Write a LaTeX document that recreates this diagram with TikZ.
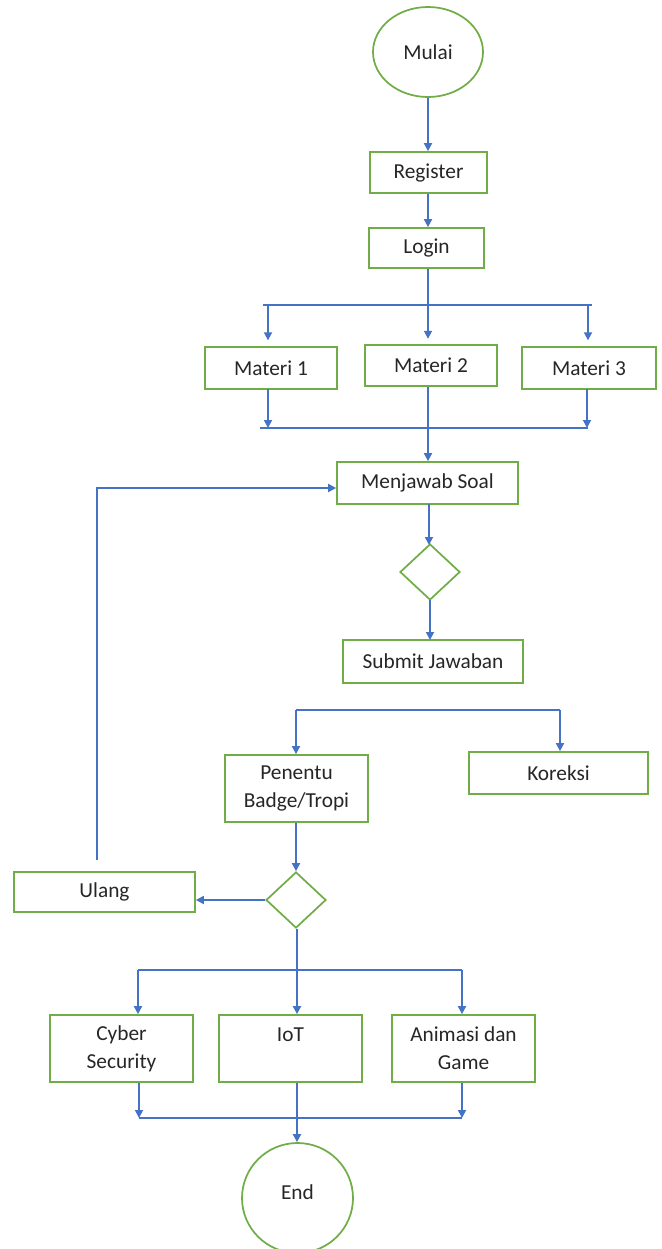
\documentclass[tikz,border=0pt]{standalone}
\usepackage{fontspec}
\setmainfont{Carlito}
\usetikzlibrary{arrows.meta,shapes.geometric}
\definecolor{boxgreen}{RGB}{112,173,71}
\definecolor{lineblue}{RGB}{68,114,196}
\definecolor{inkgray}{RGB}{38,38,38}

\begin{document}
\begin{tikzpicture}[x=0.75pt, y=-0.75pt,
  box/.style={draw=boxgreen, line width=1.3pt, inner sep=0pt, align=center,
    text=inkgray, font=\fontsize{16}{21}\selectfont},
  terminal/.style={box, ellipse},
  decision/.style={draw=boxgreen, line width=1.3pt, diamond, inner sep=0pt,
    minimum width=45pt, minimum height=42pt},
  link/.style={draw=lineblue, line width=1.3pt},
  flow/.style={link, -{Triangle[width=6pt,length=6pt]}}]
  \useasboundingbox (0,0) rectangle (661,1249);

  % start, register, login
  \node[terminal, minimum width=82.5pt, minimum height=67.5pt] (mulai) at (428,52) {Mulai};
  \node[box, minimum width=87.75pt, minimum height=30.75pt] (register) at (428.5,172.5) {Register};
  \node[box, minimum width=86.25pt, minimum height=30pt] (login) at (426.5,248) {Login};

  % materi
  \coordinate (busA) at (428,305);
  \coordinate (busAl) at (263,305);
  \coordinate (busAr) at (592,305);
  \node[box, minimum width=99pt, minimum height=31.5pt] (materi1) at (271,368) {Materi 1};
  \node[box, minimum width=99pt, minimum height=30.75pt] (materi2) at (431,365.5) {Materi 2};
  \node[box, minimum width=100.5pt, minimum height=31.5pt] (materi3) at (589,368) {Materi 3};
  \coordinate (busB) at (428,428);
  \coordinate (busBl) at (260,428);
  \coordinate (busBr) at (588,428);

  % soal
  \node[box, minimum width=135.75pt, minimum height=31.5pt] (menjawab) at (427.5,483) {Menjawab Soal};
  \node[decision] (cek) at (430,572) {};
  \node[box, minimum width=135pt, minimum height=32.25pt] (submit) at (433,661.5) {Submit Jawaban};

  % hasil
  \coordinate (busCl) at (296,710);
  \coordinate (busCr) at (560,710);
  \node[box, minimum width=107.25pt, minimum height=50.25pt] (penentu) at (296.5,788.5) {Penentu\\Badge/Tropi};
  \node[box, minimum width=134.25pt, minimum height=31.5pt] (koreksi) at (558.5,773) {Koreksi};
  \node[decision] (lulus) at (296,900) {};
  \node[box, minimum width=135.75pt, minimum height=30pt] (ulang) at (104.5,892) {Ulang};
  \coordinate (loop) at (97,860);

  % pilihan
  \coordinate (busD) at (297,970);
  \coordinate (busDl) at (138,970);
  \coordinate (busDr) at (462,970);
  \node[box, minimum width=107.25pt, minimum height=50.25pt] (cyber) at (121.5,1048.5) {Cyber\\Security};
  \node[box, minimum width=107.25pt, minimum height=50.25pt] (iot) at (290.5,1048.5) {IoT\\~};
  \node[box, minimum width=107.25pt, minimum height=50.25pt] (animasi) at (463.5,1048.5) {Animasi dan\\Game};
  \coordinate (busEl) at (139,1118);
  \coordinate (busEr) at (462,1118);
  \node[terminal, minimum width=83.25pt, minimum height=82.5pt,
    text height=11pt, text depth=9pt] (end) at (297.5,1198) {End};

  \draw[flow] (busA |- mulai.south) -- (busA |- register.north);
  \draw[flow] (busA |- register.south) -- (busA |- login.north);
  \draw[link] (busA |- login.south) -- (busA);
  \draw[link] (busAl) -- (busAr);
  \draw[flow, shorten >=5pt] (busA -| 268,0) -- (268,347);
  \draw[flow, shorten >=4pt] (busA) -- (busA |- materi2.north);
  \draw[flow, shorten >=5pt] (busA -| 588,0) -- (588,347);
  \draw[flow] (268,389) -- (busB -| 268,0);
  \draw[flow] (587,389) -- (busB -| 587,0);
  \draw[link] (busBl) -- (busBr);
  \draw[flow] (busB |- materi2.south) -- (busB |- menjawab.north);

  \draw[flow] (429,504) -- (429,545);
  \draw[flow] (430,600) -- (430,640);
  \draw[flow] (loop) |- ([yshift=-3.75pt]menjawab.west);

  \draw[link] (busCl) -- (busCr);
  \draw[flow] (busCl) -- (busCl |- penentu.north);
  \draw[flow] (busCr) -- (busCr |- koreksi.north);
  \draw[flow] (penentu.south -| lulus) -- (lulus);
  \draw[flow] (lulus.west) -- (lulus.west -| ulang.east);
  \draw[link] (lulus.south -| busD) -- (busD);

  \draw[link] (busDl) -- (busDr);
  \draw[flow] (busDl) -- (busDl |- cyber.north);
  \draw[flow] (busD) -- (busD |- iot.north);
  \draw[flow] (busDr) -- (busDr |- animasi.north);
  \draw[flow] (busEl |- cyber.south) -- (busEl);
  \draw[flow] (busEr |- animasi.south) -- (busEr);
  \draw[link] (busEl) -- (busEr);
  \draw[flow] (busD |- iot.south) -- (busD |- end.north);
\end{tikzpicture}
\end{document}
